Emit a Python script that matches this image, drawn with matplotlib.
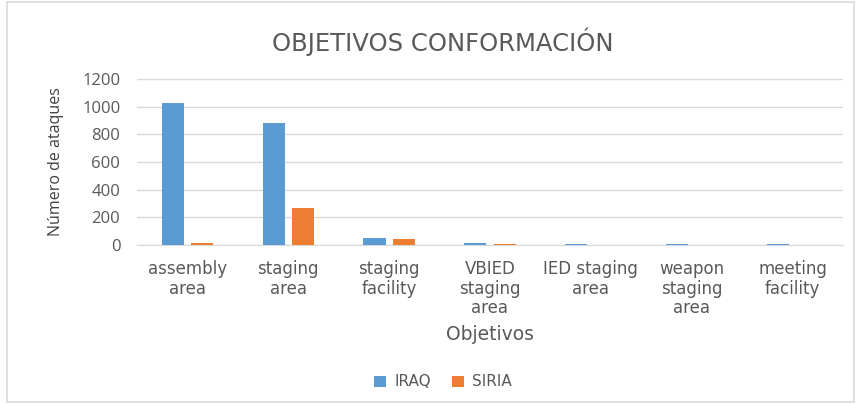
import matplotlib
matplotlib.use("Agg")
import matplotlib.pyplot as plt
import numpy as np
from matplotlib.patches import Rectangle

categories = ["assembly\narea", "staging\narea", "staging\nfacility",
              "VBIED\nstaging\narea", "IED staging\narea",
              "weapon\nstaging\narea", "meeting\nfacility"]
iraq = [1025, 885, 48, 16, 9, 9, 9]
siria = [12, 268, 40, 9, 0, 0, 0]

plt.rcParams['font.family'] = ['DejaVu Sans']
txt = '#595959'

fig = plt.figure(figsize=(8.6, 4.04), dpi=100)
fig.patches.append(Rectangle((0.008, 0.005), 0.985, 0.99, transform=fig.transFigure,
                             fill=False, edgecolor='#D9D9D9', linewidth=1.2))
ax = fig.add_axes([137/860, 1-245/404, (843-137)/860, (245-79)/404])

x = np.arange(len(categories))
w = 0.22
ax.bar(x - 0.145, iraq, w, color='#5B9BD5', label='IRAQ', zorder=3)
ax.bar(x + 0.145, siria, w, color='#ED7D31', label='SIRIA', zorder=3)

ax.set_xlim(-0.5, len(categories) - 0.5)
ax.set_ylim(0, 1200)
ax.set_yticks(np.arange(0, 1201, 200))
ax.yaxis.grid(True, color='#D9D9D9', linewidth=1, zorder=0)
for s in ['top', 'right', 'left']:
    ax.spines[s].set_visible(False)
ax.spines['bottom'].set_color('#D9D9D9')
ax.tick_params(length=0, colors=txt)
ax.tick_params(axis='y', pad=12)
ax.tick_params(axis='x', pad=11)
ax.set_xticks(x)
ax.set_xticklabels(categories, linespacing=1.1, fontsize=12)
for lab in ax.get_yticklabels():
    lab.set_fontfamily(['Open Sans', 'DejaVu Sans'])
    lab.set_fontsize(12)

fig.text(443/860, 1-42/404, "OBJETIVOS CONFORMACIÓN", fontsize=17.5, color=txt,
         ha='center', va='center')
ax.set_ylabel("Número de ataques", fontsize=11.5, color='#404040',
              family=['Open Sans', 'DejaVu Sans'])
ax.yaxis.set_label_coords((64-137)/706, 0.5)
ax.set_xlabel("Objetivos", fontsize=13.5, color=txt)
ax.xaxis.set_label_coords((490-137)/706, (245-325)/166)

fig.legend(loc='center', bbox_to_anchor=(443/860, 1-382/404), ncol=2, frameon=False,
           fontsize=11, handlelength=0.8, handleheight=0.7, labelcolor=txt,
           columnspacing=1.4, handletextpad=0.5)

fig.savefig("out.png", dpi=100)
